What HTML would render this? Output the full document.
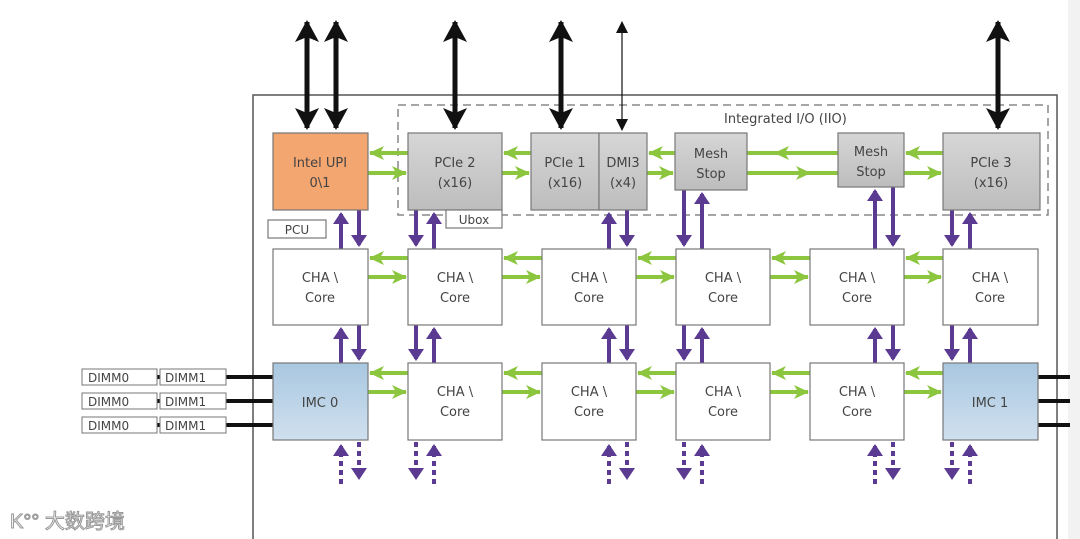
<!DOCTYPE html>
<html><head><meta charset="utf-8"><style>
html,body{margin:0;padding:0;background:#fff}
svg{display:block}
text{font-family:"DejaVu Sans","Liberation Sans",sans-serif;font-size:13px;fill:#444}
</style></head><body>
<svg width="1080" height="539" viewBox="0 0 1080 539" xmlns="http://www.w3.org/2000/svg">
<defs>
<marker id="p" markerWidth="4" markerHeight="4" refX="2.5" refY="2" orient="auto" markerUnits="strokeWidth"><path d="M0,0 L3,2 L0,4 z" fill="#5b3a92"/></marker>
<marker id="g" markerWidth="16" markerHeight="14" refX="14" refY="7" orient="auto" markerUnits="userSpaceOnUse"><path d="M0,0 L15,7 L0,14 L4,7 z" fill="#8cc63f"/></marker>
<marker id="b" markerWidth="24" markerHeight="24" refX="20" refY="12" orient="auto-start-reverse" markerUnits="userSpaceOnUse"><path d="M0,0 L22,12 L0,24 L5,12 z" fill="#111"/></marker>
<marker id="bt" markerWidth="12" markerHeight="12" refX="11" refY="6" orient="auto-start-reverse" markerUnits="userSpaceOnUse"><path d="M0,0 L12,6 L0,12 z" fill="#111"/></marker>
<linearGradient id="gr" x1="0" y1="0" x2="0" y2="1"><stop offset="0" stop-color="#d6d6d6"/><stop offset="1" stop-color="#bdbdbd"/></linearGradient>
<linearGradient id="bl" x1="0" y1="0" x2="0" y2="1"><stop offset="0" stop-color="#a9c7e0"/><stop offset="1" stop-color="#cfe0ef"/></linearGradient>
</defs>
<rect x="1068" y="0" width="12" height="539" fill="#f2f2f2"/>
<rect x="253" y="95" width="804" height="460" fill="none" stroke="#555" stroke-width="1.5"/>
<rect x="398" y="105" width="650" height="110" fill="none" stroke="#888" stroke-width="1.5" stroke-dasharray="8,5"/>
<text x="724" y="123" font-size="12">Integrated I/O (IIO)</text>

<g stroke="#111" stroke-width="5" marker-start="url(#b)" marker-end="url(#b)">
<line x1="307" y1="22" x2="307" y2="128"/>
<line x1="336" y1="22" x2="336" y2="128"/>
<line x1="455" y1="22" x2="455" y2="128"/>
<line x1="561" y1="22" x2="561" y2="128"/>
<line x1="998" y1="22" x2="998" y2="128"/>
</g>
<line x1="622" y1="22" x2="622" y2="130" stroke="#111" stroke-width="1.2" marker-start="url(#bt)" marker-end="url(#bt)"/>

<g stroke="#8cc63f" stroke-width="4">
<line x1="408" y1="153" x2="370" y2="153" marker-end="url(#g)"/><line x1="368" y1="173" x2="406" y2="173" marker-end="url(#g)"/>
<line x1="531" y1="153" x2="504" y2="153" marker-end="url(#g)"/><line x1="502" y1="173" x2="529" y2="173" marker-end="url(#g)"/>
<line x1="675" y1="153" x2="649" y2="153" marker-end="url(#g)"/><line x1="647" y1="173" x2="673" y2="173" marker-end="url(#g)"/>
<line x1="838" y1="153" x2="747" y2="153"/><line x1="747" y1="173" x2="838" y2="173"/>
<line x1="838" y1="153" x2="775" y2="153" marker-end="url(#g)"/><line x1="747" y1="173" x2="810" y2="173" marker-end="url(#g)"/>
<line x1="943" y1="153" x2="906" y2="153" marker-end="url(#g)"/><line x1="904" y1="173" x2="941" y2="173" marker-end="url(#g)"/>
</g>
<g stroke="#8cc63f" stroke-width="4">
<line x1="408" y1="258" x2="370" y2="258" marker-end="url(#g)"/><line x1="368" y1="277" x2="406" y2="277" marker-end="url(#g)"/>
<line x1="542" y1="258" x2="504" y2="258" marker-end="url(#g)"/><line x1="502" y1="277" x2="540" y2="277" marker-end="url(#g)"/>
<line x1="676" y1="258" x2="638" y2="258" marker-end="url(#g)"/><line x1="636" y1="277" x2="674" y2="277" marker-end="url(#g)"/>
<line x1="810" y1="258" x2="772" y2="258" marker-end="url(#g)"/><line x1="770" y1="277" x2="808" y2="277" marker-end="url(#g)"/>
<line x1="943" y1="258" x2="906" y2="258" marker-end="url(#g)"/><line x1="904" y1="277" x2="941" y2="277" marker-end="url(#g)"/>
</g>
<g stroke="#8cc63f" stroke-width="4">
<line x1="408" y1="373" x2="370" y2="373" marker-end="url(#g)"/><line x1="368" y1="392" x2="406" y2="392" marker-end="url(#g)"/>
<line x1="542" y1="373" x2="504" y2="373" marker-end="url(#g)"/><line x1="502" y1="392" x2="540" y2="392" marker-end="url(#g)"/>
<line x1="676" y1="373" x2="638" y2="373" marker-end="url(#g)"/><line x1="636" y1="392" x2="674" y2="392" marker-end="url(#g)"/>
<line x1="810" y1="373" x2="772" y2="373" marker-end="url(#g)"/><line x1="770" y1="392" x2="808" y2="392" marker-end="url(#g)"/>
<line x1="943" y1="373" x2="906" y2="373" marker-end="url(#g)"/><line x1="904" y1="392" x2="941" y2="392" marker-end="url(#g)"/>
</g>

<g stroke="#5b3a92" stroke-width="4" marker-end="url(#p)">
<line x1="341" y1="249" x2="341" y2="214"/><line x1="359" y1="210" x2="359" y2="245"/>
<line x1="416" y1="210" x2="416" y2="245"/><line x1="434" y1="249" x2="434" y2="214"/>
<line x1="609" y1="249" x2="609" y2="214"/><line x1="627" y1="210" x2="627" y2="245"/>
<line x1="684" y1="190" x2="684" y2="245"/><line x1="702" y1="249" x2="702" y2="194"/>
<line x1="875" y1="249" x2="875" y2="191"/><line x1="893" y1="187" x2="893" y2="245"/>
<line x1="952" y1="210" x2="952" y2="245"/><line x1="970" y1="249" x2="970" y2="214"/>
<line x1="341" y1="363" x2="341" y2="329"/><line x1="359" y1="325" x2="359" y2="359"/>
<line x1="416" y1="325" x2="416" y2="359"/><line x1="434" y1="363" x2="434" y2="329"/>
<line x1="609" y1="363" x2="609" y2="329"/><line x1="627" y1="325" x2="627" y2="359"/>
<line x1="684" y1="325" x2="684" y2="359"/><line x1="702" y1="363" x2="702" y2="329"/>
<line x1="875" y1="363" x2="875" y2="329"/><line x1="893" y1="325" x2="893" y2="359"/>
<line x1="952" y1="325" x2="952" y2="359"/><line x1="970" y1="363" x2="970" y2="329"/>
</g>
<g stroke="#5b3a92" stroke-width="4" stroke-dasharray="5,4" marker-end="url(#p)">
<line x1="341" y1="484" x2="341" y2="446"/><line x1="359" y1="442" x2="359" y2="478"/>
<line x1="416" y1="442" x2="416" y2="478"/><line x1="434" y1="484" x2="434" y2="446"/>
<line x1="609" y1="484" x2="609" y2="446"/><line x1="627" y1="442" x2="627" y2="478"/>
<line x1="684" y1="442" x2="684" y2="478"/><line x1="702" y1="484" x2="702" y2="446"/>
<line x1="875" y1="484" x2="875" y2="446"/><line x1="893" y1="442" x2="893" y2="478"/>
<line x1="952" y1="442" x2="952" y2="478"/><line x1="970" y1="484" x2="970" y2="446"/>
</g>

<g stroke="#111" stroke-width="4">
<line x1="226" y1="377" x2="273" y2="377"/><line x1="226" y1="401" x2="273" y2="401"/><line x1="226" y1="425" x2="273" y2="425"/>
<line x1="1038" y1="377" x2="1070" y2="377"/><line x1="1038" y1="401" x2="1070" y2="401"/><line x1="1038" y1="425" x2="1070" y2="425"/>
<line x1="157" y1="377" x2="160" y2="377"/><line x1="157" y1="401" x2="160" y2="401"/><line x1="157" y1="425" x2="160" y2="425"/>
</g>
<g fill="#fff" stroke="#777" stroke-width="1">
<rect x="82" y="369" width="75" height="16"/><rect x="160" y="369" width="66" height="16"/>
<rect x="82" y="393" width="75" height="16"/><rect x="160" y="393" width="66" height="16"/>
<rect x="82" y="417" width="75" height="16"/><rect x="160" y="417" width="66" height="16"/>
</g>
<g>
<text x="88" y="382" style="font-size:12px">DIMM0</text><text x="165" y="382" style="font-size:12px">DIMM1</text>
<text x="88" y="406" style="font-size:12px">DIMM0</text><text x="165" y="406" style="font-size:12px">DIMM1</text>
<text x="88" y="430" style="font-size:12px">DIMM0</text><text x="165" y="430" style="font-size:12px">DIMM1</text>
</g>

<g stroke="#777" stroke-width="1.2">
<rect x="273" y="133" width="95" height="77" fill="#f3a66f"/>
<rect x="408" y="133" width="94" height="77" fill="url(#gr)"/>
<rect x="531" y="133" width="68" height="77" fill="url(#gr)"/>
<rect x="599" y="133" width="48" height="77" fill="url(#gr)"/>
<rect x="675" y="133" width="72" height="57" fill="url(#gr)"/>
<rect x="838" y="133" width="66" height="54" fill="url(#gr)"/>
<rect x="943" y="133" width="97" height="77" fill="url(#gr)"/>
<rect x="268" y="220" width="58" height="18" fill="#fff"/>
<rect x="446" y="210" width="56" height="18" fill="#fff"/>
<g fill="#fff">
<rect x="273" y="249" width="95" height="76"/><rect x="408" y="249" width="94" height="76"/><rect x="542" y="249" width="94" height="76"/>
<rect x="676" y="249" width="94" height="76"/><rect x="810" y="249" width="94" height="76"/><rect x="943" y="249" width="95" height="76"/>
<rect x="408" y="363" width="94" height="77"/><rect x="542" y="363" width="94" height="77"/>
<rect x="676" y="363" width="94" height="77"/><rect x="810" y="363" width="94" height="77"/>
</g>
<rect x="273" y="363" width="95" height="77" fill="url(#bl)"/>
<rect x="943" y="363" width="95" height="77" fill="url(#bl)"/>
</g>

<g text-anchor="middle">
<text x="320" y="167">Intel UPI</text><text x="320" y="187">0\1</text>
<text x="455" y="167">PCIe 2</text><text x="455" y="187">(x16)</text>
<text x="565" y="167">PCIe 1</text><text x="565" y="187">(x16)</text>
<text x="623" y="167">DMI3</text><text x="623" y="187">(x4)</text>
<text x="711" y="158">Mesh</text><text x="711" y="178">Stop</text>
<text x="871" y="156">Mesh</text><text x="871" y="176">Stop</text>
<text x="991" y="167">PCIe 3</text><text x="991" y="187">(x16)</text>
<text x="297" y="234" style="font-size:12px">PCU</text>
<text x="474" y="224" style="font-size:12px">Ubox</text>
<text x="320" y="282">CHA \</text><text x="320" y="302">Core</text>
<text x="455" y="282">CHA \</text><text x="455" y="302">Core</text>
<text x="589" y="282">CHA \</text><text x="589" y="302">Core</text>
<text x="723" y="282">CHA \</text><text x="723" y="302">Core</text>
<text x="857" y="282">CHA \</text><text x="857" y="302">Core</text>
<text x="990" y="282">CHA \</text><text x="990" y="302">Core</text>
<text x="320" y="407">IMC 0</text>
<text x="455" y="396">CHA \</text><text x="455" y="416">Core</text>
<text x="589" y="396">CHA \</text><text x="589" y="416">Core</text>
<text x="723" y="396">CHA \</text><text x="723" y="416">Core</text>
<text x="857" y="396">CHA \</text><text x="857" y="416">Core</text>
<text x="990" y="407">IMC 1</text>
</g>
<text x="10" y="528" style="font-size:20px;fill:#fff;stroke:#999;stroke-width:1;font-family:'Liberation Sans','Noto Sans CJK SC',sans-serif">K°° 大数跨境</text>
</svg>
</body></html>
